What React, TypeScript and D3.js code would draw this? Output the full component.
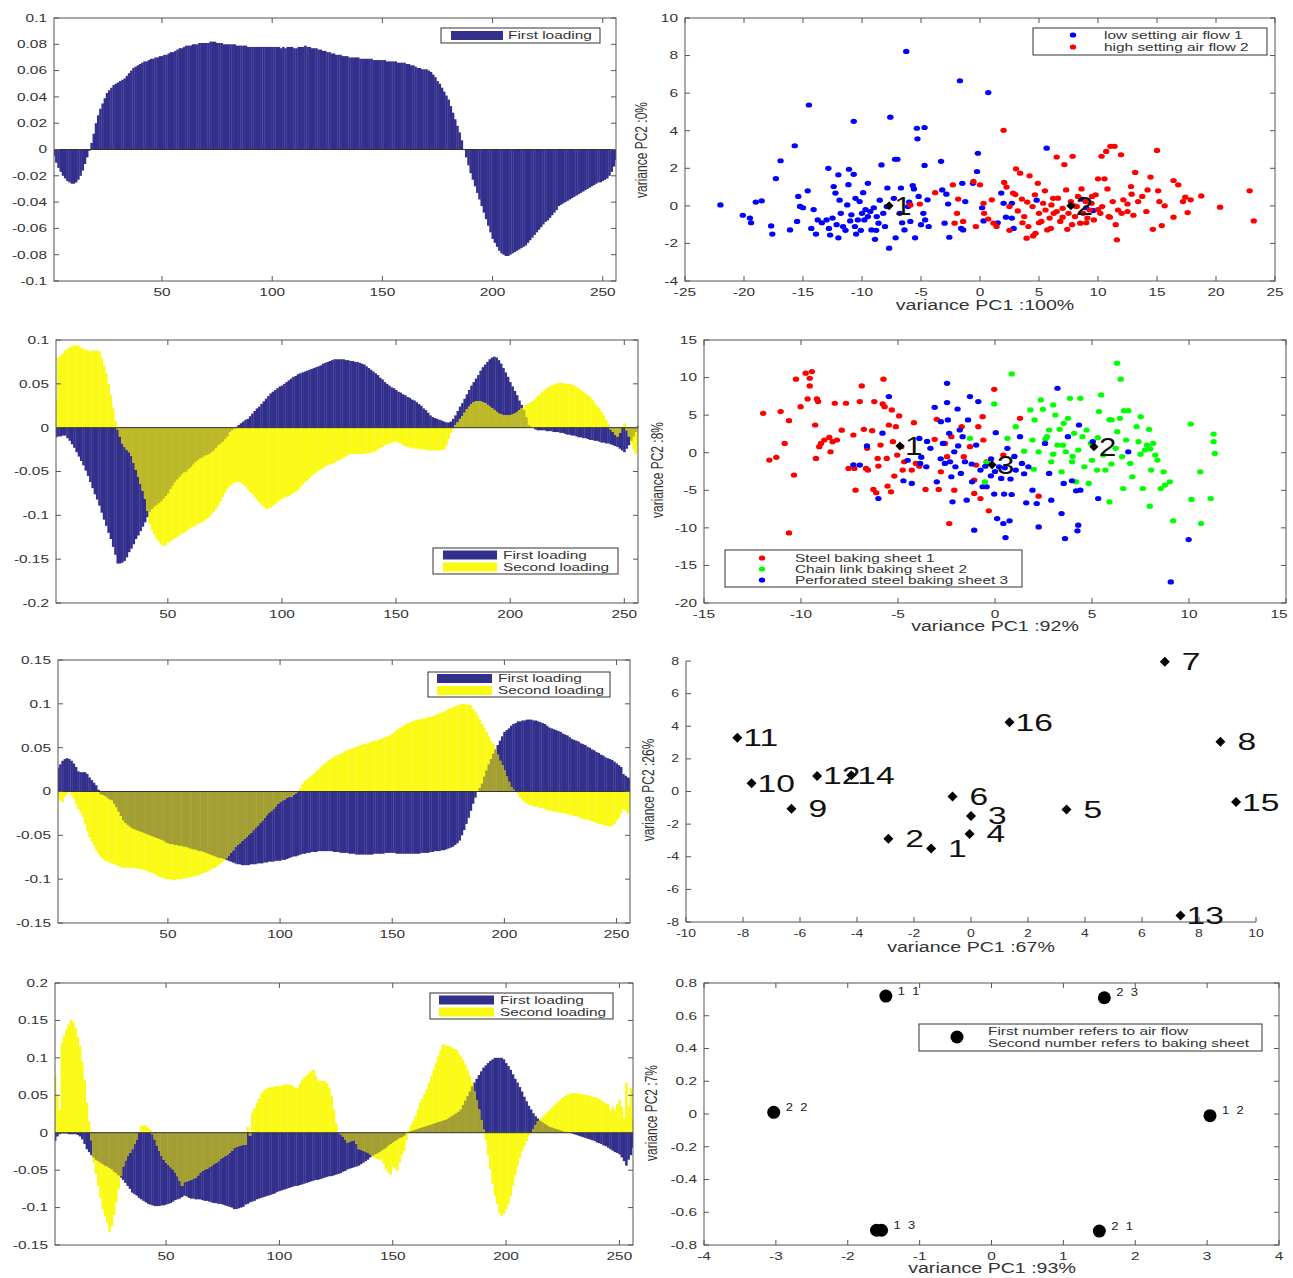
import React from "react";
import * as d3 from "d3";

// ---------------- styles ----------------
const FONT = "'Liberation Sans', Arial, Helvetica, sans-serif";
const NAVY = "#332f8c";
const YELLOW = "#fafa14";
const OLIVE = "#a29e35";
const AXIS = "#555555";
const TXT = "#333333";
const SX = 1.4;

// ---------------- data ----------------
// loadings are listed in thousandths (x 0.001), one value per wavelength index 1..256
const LOADING_UNIT = 0.001;
const bandIndex = d3.range(1, 257);
const barXTicks = [50, 100, 150, 200, 250];

const p1First = [
  -5,-10,-14,-17,-20,-22,-24,-25,-26,-26,
  -25,-23,-20,-16,-11,-6,-1,5,12,20,
  26,31,35,39,43,45,47,49,50,51,
  52,53,54,56,58,60,62,63,64,65,
  66,67,67,68,69,69,70,70,71,71,
  72,72,73,74,74,75,76,77,77,78,
  79,79,79,80,80,80,81,81,81,81,
  81,82,82,82,81,81,81,80,80,80,
  80,80,80,79,79,79,79,79,78,78,
  78,78,78,78,78,78,78,78,78,78,
  78,78,78,77,78,77,78,78,78,77,
  77,78,78,78,79,78,78,77,77,77,
  76,76,75,75,74,74,73,73,72,72,
  72,71,71,71,70,70,70,70,70,69,
  69,69,69,69,69,68,68,68,68,68,
  68,67,67,67,67,67,66,66,66,66,
  65,65,64,64,63,62,62,61,61,61,
  60,59,57,55,52,50,47,44,41,38,
  33,28,23,18,13,7,0,-6,-12,-18,
  -23,-28,-33,-38,-43,-48,-53,-58,-63,-68,
  -71,-74,-77,-79,-80,-81,-81,-80,-79,-78,
  -77,-76,-75,-74,-73,-71,-69,-67,-65,-63,
  -61,-59,-57,-55,-54,-52,-50,-48,-46,-43,
  -42,-41,-40,-39,-38,-37,-36,-35,-34,-33,
  -32,-31,-30,-29,-28,-27,-26,-25,-25,-24,
  -23,-22,-20,-17,-13,-8,
];

const p3First = [
  -11,-10,-10,-9,-9,-12,-15,-19,-23,-28,
  -33,-38,-43,-49,-55,-62,-69,-76,-82,-89,
  -97,-105,-112,-120,-127,-136,-145,-155,-155,-154,
  -152,-148,-142,-138,-133,-127,-123,-118,-113,-108,
  -102,-96,-93,-90,-88,-86,-84,-81,-78,-75,
  -70,-66,-62,-59,-56,-53,-51,-50,-47,-45,
  -42,-39,-37,-35,-34,-32,-31,-30,-28,-26,
  -23,-20,-18,-16,-13,-10,-5,-3,-1,1,
  3,5,7,9,10,13,16,19,22,24,
  27,30,33,36,39,41,43,45,47,48,
  50,52,54,56,58,59,61,62,63,64,
  65,66,67,68,69,70,71,73,74,75,
  76,77,78,78,78,78,78,77,77,76,
  76,75,75,74,73,72,70,68,66,64,
  62,60,57,55,52,50,48,46,45,43,
  41,40,38,37,35,34,32,31,29,27,
  25,22,20,17,14,12,11,10,9,8,
  7,6,6,7,10,14,19,24,28,33,
  38,43,48,52,56,60,65,69,72,75,
  78,80,81,80,77,73,68,63,58,52,
  47,42,37,31,26,20,12,3,1,0,
  -2,-3,-3,-3,-3,-4,-4,-4,-5,-5,
  -5,-6,-6,-7,-8,-8,-9,-9,-10,-11,
  -11,-12,-12,-13,-14,-14,-15,-15,-16,-17,
  -17,-18,-18,-19,-20,-21,-22,-24,-26,-28,
  -24,-20,-15,-10,-5,2,
];

const p3Second = [
  31,80,82,85,88,90,92,93,94,94,
  93,91,90,89,88,87,88,88,88,87,
  80,71,62,50,37,22,8,-2,-10,-18,
  -22,-25,-28,-32,-40,-48,-56,-64,-72,-81,
  -95,-110,-117,-122,-127,-130,-133,-135,-134,-131,
  -130,-128,-126,-125,-123,-121,-120,-118,-116,-114,
  -113,-112,-110,-109,-108,-106,-104,-102,-99,-96,
  -93,-89,-84,-79,-74,-70,-67,-65,-63,-62,
  -62,-63,-65,-67,-70,-73,-76,-79,-82,-85,
  -88,-90,-93,-92,-91,-89,-87,-85,-83,-81,
  -80,-79,-78,-76,-75,-73,-71,-68,-65,-62,
  -60,-58,-55,-53,-51,-49,-48,-46,-44,-43,
  -42,-41,-40,-38,-37,-36,-34,-33,-31,-30,
  -30,-30,-30,-30,-30,-30,-29,-29,-28,-28,
  -27,-25,-23,-22,-20,-19,-18,-17,-16,-16,
  -17,-18,-20,-21,-22,-23,-23,-24,-24,-24,
  -25,-25,-25,-26,-26,-26,-26,-26,-26,-26,
  -25,-20,-13,-6,-1,3,6,10,13,17,
  21,24,27,29,30,30,30,29,28,26,
  24,22,20,18,16,15,14,14,14,14,
  15,16,18,20,22,24,26,28,29,31,
  33,36,38,41,43,45,47,48,49,50,
  51,51,51,50,50,50,49,48,46,45,
  43,41,39,37,35,32,28,25,22,18,
  14,9,3,-2,-5,-8,-10,-6,0,5,
  -3,-10,-18,-25,-30,-20,
];

const p5First = [
  27,31,35,37,38,37,35,32,28,23,
  22,22,22,20,16,13,10,7,2,-3,
  -4,-5,-7,-9,-10,-14,-18,-23,-28,-33,
  -36,-38,-40,-42,-43,-44,-45,-46,-47,-48,
  -49,-50,-51,-52,-53,-54,-55,-56,-58,-59,
  -60,-60,-61,-61,-62,-62,-63,-63,-64,-65,
  -66,-66,-67,-68,-68,-69,-70,-71,-72,-73,
  -74,-75,-76,-76,-77,-78,-79,-80,-81,-82,
  -83,-83,-84,-84,-84,-84,-83,-83,-83,-82,
  -82,-82,-81,-81,-80,-80,-80,-79,-79,-79,
  -78,-78,-77,-76,-75,-74,-74,-73,-72,-71,
  -71,-70,-70,-69,-69,-69,-68,-68,-68,-68,
  -68,-68,-68,-69,-69,-69,-70,-70,-70,-70,
  -71,-71,-71,-72,-72,-72,-72,-72,-72,-72,
  -72,-71,-71,-71,-71,-71,-70,-70,-70,-70,
  -70,-71,-71,-71,-71,-71,-71,-71,-71,-71,
  -71,-71,-70,-70,-70,-70,-69,-69,-68,-68,
  -68,-67,-67,-66,-65,-64,-63,-61,-59,-56,
  -50,-44,-37,-30,-22,-14,-7,0,4,9,
  17,24,31,37,43,48,53,58,63,68,
  70,72,75,77,78,80,80,81,81,82,
  82,82,81,81,80,79,78,77,75,73,
  72,71,70,69,68,66,65,64,62,60,
  59,58,57,55,54,53,51,50,48,47,
  45,44,42,41,39,38,37,36,34,32,
  30,28,20,18,16,15,
];

const p5Second = [
  -6,-10,-12,-6,-3,0,-4,-8,-14,-20,
  -24,-29,-37,-45,-52,-57,-62,-67,-71,-75,
  -77,-79,-80,-81,-82,-83,-84,-85,-86,-87,
  -87,-87,-87,-87,-87,-88,-88,-89,-89,-90,
  -91,-92,-93,-94,-96,-97,-98,-99,-100,-100,
  -100,-101,-101,-100,-100,-100,-99,-99,-98,-98,
  -97,-96,-96,-95,-94,-93,-92,-91,-89,-88,
  -87,-85,-83,-81,-79,-76,-73,-70,-67,-63,
  -61,-59,-56,-54,-52,-49,-47,-44,-41,-39,
  -36,-33,-30,-27,-24,-22,-20,-17,-14,-12,
  -10,-9,-7,-6,-6,-4,-2,0,4,9,
  12,14,16,18,20,23,25,28,30,32,
  34,36,38,39,41,42,43,44,46,47,
  48,49,50,51,52,53,54,54,55,56,
  57,58,58,59,60,61,62,63,64,66,
  68,70,72,73,75,77,78,79,80,81,
  82,82,83,83,84,85,85,86,87,88,
  89,90,91,92,94,95,96,97,98,99,
  100,100,99,99,98,94,91,87,82,77,
  73,68,63,58,54,48,42,35,30,24,
  17,11,5,2,0,-3,-7,-10,-12,-14,
  -15,-16,-17,-17,-18,-19,-19,-20,-21,-22,
  -22,-23,-23,-24,-24,-25,-25,-26,-26,-27,
  -28,-28,-29,-30,-31,-32,-32,-33,-34,-35,
  -36,-37,-37,-38,-39,-39,-40,-39,-37,-33,
  -30,-25,-20,-22,-25,-20,
];

const p7First = [
  -11,-5,-2,-1,-1,-1,-2,-2,-2,-2,
  -3,-5,-9,-15,-22,-26,-30,-33,-36,-38,
  -40,-42,-44,-45,-47,-49,-52,-54,-57,-60,
  -63,-67,-71,-75,-80,-82,-84,-87,-89,-91,
  -93,-95,-96,-97,-98,-98,-98,-97,-97,-96,
  -95,-94,-92,-90,-89,-88,-86,-84,-85,-87,
  -88,-88,-89,-89,-89,-90,-91,-91,-92,-93,
  -94,-94,-95,-95,-96,-97,-98,-99,-100,-102,
  -102,-101,-100,-99,-96,-95,-93,-92,-91,-89,
  -88,-87,-86,-85,-84,-83,-82,-81,-79,-78,
  -77,-76,-75,-74,-73,-72,-71,-71,-70,-69,
  -68,-67,-66,-65,-64,-63,-63,-62,-61,-60,
  -59,-58,-58,-57,-56,-55,-54,-52,-51,-49,
  -48,-47,-46,-45,-44,-42,-40,-38,-36,-33,
  -31,-29,-28,-26,-24,-22,-20,-17,-15,-13,
  -11,-9,-7,-6,-4,0,1,2,3,4,
  5,6,7,8,9,10,11,12,13,14,
  15,16,17,18,20,22,24,26,28,31,
  37,43,49,55,62,67,72,77,82,87,
  90,93,96,98,100,100,100,100,98,93,
  89,84,78,72,67,61,55,48,42,36,
  31,26,22,19,16,14,12,10,8,7,
  6,5,4,3,2,1,1,0,-1,-2,
  -3,-4,-5,-6,-7,-8,-9,-10,-11,-13,
  -14,-15,-17,-18,-20,-22,-24,-26,-27,-29,
  -33,-38,-44,-36,-30,-20,
];

const p7Second = [
  78,50,30,120,130,138,145,151,148,140,
  128,116,95,71,40,15,-10,-40,-55,-71,
  -87,-102,-112,-120,-133,-125,-110,-93,-75,-58,
  -45,-37,-31,-27,-22,-15,-9,0,9,10,
  10,7,4,-2,-9,-17,-24,-31,-36,-40,
  -43,-46,-49,-53,-58,-64,-71,-66,-65,-64,
  -63,-61,-60,-57,-53,-51,-49,-48,-46,-44,
  -42,-40,-38,-35,-33,-31,-29,-27,-24,-20,
  -19,-18,-17,-16,-16,8,-4,27,33,40,
  46,53,56,58,60,61,61,62,62,62,
  63,64,65,64,64,62,60,60,65,71,
  74,77,80,82,84,76,70,69,69,69,
  66,60,49,31,13,0,-2,-5,-9,-13,
  -12,-11,-10,-15,-22,-23,-24,-25,-27,-29,
  -31,-33,-35,-36,-36,-42,-49,-53,-56,-45,
  -48,-51,-40,-30,-24,-10,3,10,16,22,
  31,40,46,52,58,67,76,84,93,102,
  110,118,117,116,116,114,112,111,106,102,
  97,91,84,76,67,55,43,31,17,4,
  -10,-30,-49,-68,-84,-95,-107,-111,-108,-102,
  -95,-85,-71,-57,-44,-34,-25,-18,-11,-4,
  0,5,10,15,18,21,24,27,30,33,
  36,39,42,44,47,49,51,52,53,53,
  53,52,52,51,51,50,49,48,48,47,
  45,43,41,39,38,30,35,30,38,44,
  35,20,67,35,60,20,
];

// score plot: air flow
const p2LowAirFlow: [number, number][] = [
  [-22.0,0.05],[-20.1,-0.5],[-19.5,-0.65],[-19.4,-0.9],[-19.0,0.2],[-18.5,0.27],[-17.7,-1.07],[-17.6,-1.5],
  [-17.3,1.45],[-16.9,2.4],[-16.1,-1.28],[-15.7,3.2],[-15.5,-0.83],[-15.4,0.5],[-15.25,-0.03],[-15.0,-0.1],
  [-14.6,0.8],[-14.5,5.37],[-14.3,-1.2],[-14.1,-0.2],[-13.9,-1.5],[-13.75,-0.75],[-13.4,-0.9],[-13.0,-0.75],
  [-12.85,2.0],[-12.7,-1.55],[-12.5,-0.65],[-12.4,1.03],[-12.25,0.68],[-12.15,-1.0],[-12.0,1.65],[-12.0,-1.7],
  [-11.8,-0.4],[-11.6,-1.1],[-11.4,-1.3],[-11.25,0.05],[-11.15,1.13],[-11.1,1.95],[-10.9,-0.48],[-10.7,1.68],
  [-10.7,4.5],[-10.6,-1.1],[-10.55,0.4],[-10.35,-0.75],[-10.2,0.23],[-10.1,-1.3],[-10.0,-0.4],[-9.8,-0.75],
  [-9.7,-0.2],[-9.5,1.2],[-9.5,-0.57],[-9.3,-0.3],[-9.2,-1.28],[-8.9,-1.78],[-8.75,-0.57],[-8.6,-0.92],
  [-8.35,2.18],[-8.2,-0.4],[-8.05,-1.1],[-7.9,-0.04],[-7.85,0.95],[-7.7,-2.25],[-7.6,4.72],[-7.3,0.4],
  [-7.2,2.48],[-7.15,-1.7],[-7.0,2.48],[-6.8,-0.4],[-6.7,0.95],[-6.4,-1.28],[-6.25,8.22],[-6.1,-0.04],
  [-5.9,-0.83],[-5.7,1.08],[-5.5,-1.7],[-5.35,4.13],[-5.3,3.57],[-5.2,0.5],[-5.0,-1.0],[-4.8,-0.4],
  [-4.7,4.17],[-4.7,2.15],[-4.65,-0.75],[-4.45,0.32],[-4.35,-1.1],[-3.3,2.37],[-3.2,0.85],[-3.0,-0.92],
  [-2.85,0.62],[-2.7,0.1],[-2.6,-1.67],[-1.7,6.66],[-1.6,-1.2],[-1.5,1.2],[-1.43,-1.28],[-1.25,0.23],
  [-0.25,1.83],[-0.18,2.8],[0.18,-0.1],[0.7,6.03],[1.8,0.68],[2.0,0.14],[2.7,0.14],[2.7,-0.65],
  [2.85,-1.2],[5.65,3.07],[8.6,0.36],[9.6,-0.25],[0.3,-0.8],[1.5,-0.9],[-0.6,1.2],[2.2,-0.6],
  [9.0,-0.1],[4.8,0.3],[-11.0,-0.8],[-9.0,-0.1],[-8.5,0.3],[-10.5,-1.5],[-12.8,-1.2],[-6.0,0.2],
  [-9.9,0.7],[-11.9,0.3],[-6.6,-0.9],[-5.6,0.9],[-8.8,-1.3],
];

const p2HighAirFlow: [number, number][] = [
  [-5.9,0.05],[-5.1,0.1],[-3.8,0.7],[-2.3,1.12],[-2.15,-0.92],[-1.95,-0.4],[-1.85,0.36],[-1.43,-0.83],
  [-0.55,1.3],[-0.35,-1.1],[0.0,1.12],[0.3,0.14],[0.35,-0.4],[0.7,-0.7],[1.0,0.32],[1.15,-0.92],
  [1.4,-1.1],[2.0,4.02],[2.05,1.25],[2.25,1.0],[2.5,-0.04],[2.8,0.68],[3.05,1.97],[3.2,-0.27],
  [3.4,1.74],[3.55,0.36],[3.75,-0.57],[3.95,-1.72],[4.1,-1.1],[4.2,1.6],[4.45,-0.04],[4.65,0.59],
  [4.7,-1.46],[4.9,1.2],[5.0,-0.4],[5.2,-0.83],[5.35,0.14],[5.55,-0.22],[5.7,-1.28],[5.9,-0.65],
  [6.05,0.05],[6.25,-0.4],[6.5,2.6],[6.6,0.41],[6.8,-0.83],[7.0,-0.13],[7.15,2.2],[7.3,0.85],
  [7.4,-1.25],[7.5,-0.4],[7.7,0.23],[7.85,2.64],[8.05,-0.57],[8.2,-0.04],[8.3,0.5],[8.5,-0.92],
  [8.75,-0.4],[8.95,0.23],[9.1,-0.65],[9.3,-0.22],[9.45,0.14],[9.65,-0.75],[9.8,0.59],[10.0,1.44],
  [10.2,-0.4],[10.3,2.64],[10.35,-0.04],[10.55,1.44],[10.7,2.9],[10.9,-0.57],[11.05,3.17],[11.25,0.23],
  [11.4,3.17],[11.6,-1.81],[11.7,-0.22],[11.95,2.72],[12.15,0.32],[12.5,-0.3],[12.8,1.03],[12.85,0.62],
  [13.15,1.78],[13.4,0.23],[13.75,0.5],[14.1,-0.3],[14.2,0.85],[14.45,1.53],[14.65,-1.25],[15.0,2.95],
  [15.1,0.8],[15.2,0.23],[15.4,-1.05],[15.65,0.0],[16.4,1.35],[16.4,-0.6],[16.8,1.12],[17.2,0.23],
  [17.4,0.46],[17.6,-0.36],[17.85,0.32],[18.75,0.53],[20.35,-0.07],[22.85,0.8],[23.2,-0.8],[5.0,-0.9],
  [6.0,-1.2],[7.0,-0.6],[8.0,0.0],[9.0,-0.9],[10.0,-0.2],[11.0,-0.6],[12.0,-0.4],[6.5,-0.3],
  [7.8,-1.0],[9.5,0.5],[10.8,0.9],[4.0,0.2],[3.0,0.6],[5.5,0.8],[8.6,0.9],[11.5,-1.0],
  [12.5,0.1],[13.0,-0.5],[6.2,0.4],[3.6,-0.9],[2.5,-1.3],[4.5,-1.6],
];
const p2Centroids: [number, number][] = [[-7.7, 0], [7.7, 0]];
const p2CentroidLabels = ["1", "2"];

// score plot: baking sheet
const p4Steel: [number, number][] = [
  [-11.95,5.24],[-11.63,-0.98],[-11.27,-0.62],[-11.05,5.47],[-10.84,1.24],[-10.62,4.27],[-10.62,-10.67],[-10.36,-2.98],
  [-10.26,9.78],[-10.02,6.13],[-9.76,10.58],[-9.66,7.16],[-9.44,10.8],[-9.55,9.91],[-9.55,8.89],[-9.27,3.69],
  [-9.23,-0.76],[-9.18,7.16],[-9.12,6.8],[-9.06,0.8],[-8.97,1.24],[-8.8,1.69],[-8.54,2.04],[-8.48,0.13],
  [-8.37,1.47],[-8.26,6.58],[-8.15,1.69],[-7.68,6.58],[-7.55,-2.09],[-7.3,2.36],[-7.25,-2.09],[-7.19,-4.98],
  [-6.97,6.8],[-6.87,8.89],[-6.76,3.11],[-6.65,-2.09],[-6.59,0.58],[-6.55,-2.31],[-6.33,2.93],[-6.27,-4.89],
  [-6.22,6.8],[-6.12,-5.33],[-6.05,-0.76],[-6.01,-1.78],[-5.9,1.02],[-5.79,6.49],[-5.75,9.78],[-5.69,6.13],
  [-5.58,-0.76],[-5.54,-4.44],[-5.47,3.69],[-5.36,-5.2],[-5.32,5.69],[-5.26,1.47],[-5.19,-3.11],[-5.11,3.47],
  [-5.04,-0.31],[-4.94,4.89],[-4.83,0.8],[-4.76,-2.31],[-4.68,-1.2],[-4.18,4.0],[-4.29,-2.31],[-4.08,-1.42],
  [-3.58,-4.89],[-3.11,1.78],[-3.0,4.44],[-2.9,-4.89],[-2.79,-2.53],[-2.58,1.24],[-2.47,-0.53],[-2.36,-9.42],
  [-2.25,2.13],[-2.1,-4.98],[-1.72,3.47],[-1.61,-0.53],[-1.29,0.8],[-1.07,-5.42],[-0.97,-1.64],[-0.86,3.47],
  [-0.75,-6.09],[-0.64,4.8],[-0.6,1.69],[-0.43,-1.2],[-0.32,-7.73],[-0.04,8.44],[0.43,-0.31],[1.29,4.58],
  [2.25,-5.78],[-1.07,-3.64],[-3.9,-1.8],[-7.9,3.0],
];
const p4ChainLink: [number, number][] = [
  [0.86,10.49],[-0.04,6.49],[-1.29,1.91],[-0.52,-3.87],[0.64,1.91],[1.07,3.47],[1.82,5.69],[1.93,1.69],
  [2.04,4.36],[2.25,0.13],[2.36,7.02],[2.47,5.78],[2.68,2.13],[2.79,3.02],[2.9,-1.2],[3.0,6.36],
  [3.11,5.02],[3.22,1.02],[3.33,3.11],[3.43,-2.53],[3.54,3.91],[3.65,0.13],[3.76,4.58],[3.86,7.24],
  [3.97,-1.2],[4.08,2.58],[4.18,-3.87],[4.29,0.36],[4.4,7.24],[4.51,2.13],[4.61,-1.87],[4.72,3.02],
  [4.83,-4.09],[4.94,1.24],[5.26,-2.31],[5.36,5.47],[5.47,7.69],[5.58,-0.31],[5.69,-2.31],[5.9,-6.53],
  [6.01,4.36],[6.22,0.58],[6.29,11.91],[6.44,4.58],[6.48,9.78],[6.55,-0.53],[6.61,-4.76],[6.65,5.6],
  [6.76,1.69],[6.87,5.6],[6.97,-1.42],[7.08,-3.2],[7.3,3.47],[7.4,1.47],[7.51,4.8],[7.62,-4.76],
  [7.73,0.36],[7.83,1.02],[7.94,3.11],[7.98,-7.11],[8.05,-2.31],[8.15,1.24],[8.26,-0.31],[8.37,-0.98],
  [8.54,-4.76],[8.69,-2.53],[8.76,-4.31],[9.01,-3.87],[9.18,-9.07],[10.09,3.82],[10.13,-6.22],[10.58,-2.53],
  [10.62,-9.42],[11.12,-6.09],[11.27,2.49],[11.27,1.47],[11.33,-0.09],[5.9,4.4],[6.3,2.8],[5.0,-1.0],
  [4.0,-0.5],[3.0,-0.2],[2.6,1.8],[3.5,1.0],[7.5,-0.2],[8.0,0.5],[6.0,-1.5],[5.3,2.0],
  [1.5,0.2],[2.0,-2.2],[-0.43,-1.3],
];
const p4Perforated: [number, number][] = [
  [-5.47,7.47],[-6.01,-6.09],[-6.97,-1.64],[-4.72,-3.73],[-4.29,-4.09],[-3.86,-1.42],[-3.54,-1.87],[-3.33,0.58],
  [-3.11,6.04],[-3.0,-3.87],[-2.79,4.13],[-2.68,1.24],[-2.58,-1.42],[-2.47,9.24],[-2.47,6.67],[-2.43,4.36],
  [-2.36,2.58],[-2.32,-1.2],[-2.25,-3.2],[-2.19,-6.53],[-2.1,0.13],[-2.04,-1.87],[-1.93,5.82],[-1.82,3.02],
  [-1.76,-2.76],[-1.67,2.13],[-1.55,-1.2],[-1.46,-6.31],[-1.39,4.36],[-1.29,7.47],[-1.18,-3.87],[-1.07,-10.31],
  [-0.97,1.02],[-0.86,6.8],[-0.75,-2.31],[-0.64,-4.53],[-0.43,-4.53],[-0.21,-3.07],[-0.04,-5.51],[0.04,2.67],
  [0.11,-8.76],[0.21,-1.87],[0.32,-3.42],[0.43,-9.42],[0.47,-5.51],[0.54,-11.29],[0.64,0.58],[0.75,-9.07],
  [0.86,-5.56],[1.07,-2.31],[1.29,2.13],[1.39,-1.42],[1.61,-6.67],[1.72,-1.87],[1.93,-4.98],[2.15,-6.76],
  [2.25,-9.87],[2.58,1.24],[2.79,-2.76],[2.9,-6.31],[3.22,8.58],[3.43,-8.09],[3.54,-4.09],[3.61,-11.42],
  [3.76,2.13],[3.97,-3.73],[4.18,-5.07],[4.29,-9.64],[4.25,-10.4],[4.33,3.69],[4.4,-4.98],[5.04,1.47],
  [5.32,-6.09],[6.87,0.13],[9.98,-11.56],[9.06,-17.2],[-0.5,-1.8],[0.0,-2.5],[0.5,-2.0],[-0.2,-0.8],
  [1.0,-0.5],[1.5,-2.8],[-1.2,-1.5],[0.8,-3.5],[-3.5,1.5],[-4.5,-1.0],[-2.8,-0.8],[-3.8,-0.6],
  [-6.6,0.9],[-7.3,-1.6],[-5.8,2.6],[-1.9,0.9],[-3.9,1.9],
];
const p4Centroids: [number, number][] = [[-4.9, 0.9], [5.1, 0.8], [-0.15, -1.6]];
const p4CentroidLabels = ["1", "2", "3"];

// score plot: 16 samples
const p6Labels = ["1","2","3","4","5","6","7","8","9","10","11","12","13","14","15","16"];
const p6PC1 = [-1.4,-2.9,0,-0.05,3.35,-0.65,6.8,8.75,-6.3,-7.7,-8.2,-5.4,7.35,-4.2,9.3,1.35];
const p6PC2 = [-3.5,-2.9,-1.5,-2.6,-1.1,-0.3,7.95,3.05,-1.05,0.5,3.3,0.95,-7.6,1.0,-0.65,4.25];

// score plot: group means
const p8Labels = ["1 1", "2 3", "2 2", "1 2", "", "1 3", "2 1"];
const p8PC1 = [-1.47, 1.57, -3.03, 3.04, -1.6, -1.53, 1.5];
const p8PC2 = [0.72, 0.71, 0.01, -0.01, -0.71, -0.71, -0.715];

// ---------------- helpers ----------------
const fmt = (v: number) => String(parseFloat(v.toFixed(4)));

type F = { l: number; r: number; t: number; b: number };

function T({ x, y, children, anchor = "start", size = 11, sx = SX, sy = 1, rot = 0, fill = TXT, dy = "0.35em" }: any) {
  return (
    <text
      transform={`translate(${x},${y}) rotate(${rot}) scale(${sx},${sy})`}
      textAnchor={anchor}
      fontSize={size}
      fill={fill}
      dy={dy}
      fontFamily={FONT}
      style={{ whiteSpace: "pre" }}
    >
      {children}
    </text>
  );
}

function Axes({ f, xs, ys, xTicks, yTicks, box = true, fs = 11 }: any) {
  const tl = 5;
  return (
    <g>
      {box ? (
        <rect x={f.l} y={f.t} width={f.r - f.l} height={f.b - f.t} fill="none" stroke={AXIS} strokeWidth={1} />
      ) : (
        <path d={`M${f.l},${f.t}V${f.b}H${f.r}`} fill="none" stroke={AXIS} strokeWidth={1} />
      )}
      {xTicks.map((v: number) => (
        <g key={"x" + v}>
          <line x1={xs(v)} x2={xs(v)} y1={f.b} y2={f.b - tl} stroke={AXIS} />
          {box && <line x1={xs(v)} x2={xs(v)} y1={f.t} y2={f.t + tl} stroke={AXIS} />}
          <T x={Math.min(xs(v), 1279)} y={f.b + 11} anchor="middle" size={fs}>{fmt(v)}</T>
        </g>
      ))}
      {yTicks.map((v: number) => (
        <g key={"y" + v}>
          <line x1={f.l} x2={f.l + tl} y1={ys(v)} y2={ys(v)} stroke={AXIS} />
          {box && <line x1={f.r} x2={f.r - tl} y1={ys(v)} y2={ys(v)} stroke={AXIS} />}
          <T x={f.l - 7} y={ys(v)} anchor="end" size={fs}>{fmt(v)}</T>
        </g>
      ))}
    </g>
  );
}

function BarPanel({ id, f, yDomain, yTicks, first, second, legend, overlap = OLIVE }: any) {
  const xs = d3.scaleLinear().domain([1, 256]).range([f.l, f.r]);
  const ys = d3.scaleLinear().domain(yDomain).range([f.b, f.t]);
  const step = xs(2) - xs(1);
  const y0 = ys(0);
  const bar = (i: number, v: number, color: string, key: string) => {
    const yv = ys(v * LOADING_UNIT);
    return (
      <rect key={key} x={xs(i) - step / 2} width={step + 0.3} y={Math.min(yv, y0)} height={Math.abs(yv - y0)} fill={color} />
    );
  };
  return (
    <g>
      <clipPath id={id}>
        <rect x={f.l} y={f.t} width={f.r - f.l} height={f.b - f.t} />
      </clipPath>
      <g clipPath={`url(#${id})`}>
        {bandIndex.map((i, k) => bar(i, first[k], NAVY, "a" + k))}
        {second && bandIndex.map((i, k) => bar(i, second[k], YELLOW, "b" + k))}
        {second &&
          bandIndex.map((i, k) => {
            const a = first[k], b = second[k];
            if (a * b <= 0) return null;
            const m = Math.sign(a) * Math.min(Math.abs(a), Math.abs(b));
            return bar(i, m, overlap, "c" + k);
          })}
      </g>
      <line x1={f.l} x2={f.r} y1={y0} y2={y0} stroke="#333" strokeWidth={1} />
      <Axes f={f} xs={xs} ys={ys} xTicks={barXTicks} yTicks={yTicks} />
      <rect x={legend.x} y={legend.y} width={legend.w} height={legend.h} fill="#fff" stroke="#333" />
      {legend.rows.map((r: any, k: number) => (
        <g key={k}>
          <rect x={legend.sx} y={r.y - 4.5} width={legend.sw} height={9} fill={r.color} />
          <T x={legend.tx} y={r.y} size={11}>{r.label}</T>
        </g>
      ))}
    </g>
  );
}

const diamond = (x: number, y: number, w: number, h: number) => `M${x},${y - h}L${x + w},${y}L${x},${y + h}L${x - w},${y}Z`;

function Dots({ pts, xs, ys, color }: any) {
  return (
    <g>
      {pts.map((p: [number, number], k: number) => (
        <ellipse key={k} cx={xs(p[0])} cy={ys(p[1])} rx={3.2} ry={2.6} fill={color} />
      ))}
    </g>
  );
}

function Centroids({ pts, labels, xs, ys }: any) {
  return (
    <g>
      {pts.map((p: [number, number], k: number) => (
        <g key={k}>
          <path d={diamond(xs(p[0]), ys(p[1]), 4.5, 4.5)} fill="#000" />
          <T x={xs(p[0]) + 5} y={ys(p[1])} size={26} sx={1.2} fill="#111">{labels[k]}</T>
        </g>
      ))}
    </g>
  );
}

function AxisLabels({ xl, xx, xy, yl, yx, yy }: any) {
  return (
    <g>
      <T x={xx} y={xy} anchor="middle" size={14} sx={1.4}>{xl}</T>
      <T x={yx} y={yy} anchor="middle" size={12} sx={1} sy={1.4} rot={-90}>{yl}</T>
    </g>
  );
}

// ---------------- panels ----------------
function Panel2() {
  const f: F = { l: 685, r: 1275, t: 18, b: 281 };
  const xs = d3.scaleLinear().domain([-25, 25]).range([f.l, f.r]);
  const ys = d3.scaleLinear().domain([-4, 10]).range([f.b, f.t]);
  return (
    <g>
      <Dots pts={p2LowAirFlow} xs={xs} ys={ys} color="#0000ff" />
      <Dots pts={p2HighAirFlow} xs={xs} ys={ys} color="#ff0000" />
      <Centroids pts={p2Centroids} labels={p2CentroidLabels} xs={xs} ys={ys} />
      <Axes f={f} xs={xs} ys={ys} xTicks={[-25, -20, -15, -10, -5, 0, 5, 10, 15, 20, 25]} yTicks={[-4, -2, 0, 2, 4, 6, 8, 10]} />
      <rect x={1033} y={28} width={234} height={27} fill="#fff" stroke="#333" />
      <ellipse cx={1073} cy={35} rx={3.2} ry={2.6} fill="#0000ff" />
      <ellipse cx={1073} cy={47} rx={3.2} ry={2.6} fill="#ff0000" />
      <T x={1104} y={35}>low setting air flow 1</T>
      <T x={1104} y={47}>high setting air flow 2</T>
      <AxisLabels xl="variance PC1 :100%" xx={985} xy={305} yl="variance PC2 :0%" yx={641} yy={150} />
    </g>
  );
}

function Panel4() {
  const f: F = { l: 704, r: 1286, t: 340, b: 603 };
  const xs = d3.scaleLinear().domain([-15, 15]).range([f.l, f.r]);
  const ys = d3.scaleLinear().domain([-20, 15]).range([f.b, f.t]);
  return (
    <g>
      <Dots pts={p4Steel} xs={xs} ys={ys} color="#ff0000" />
      <Dots pts={p4ChainLink} xs={xs} ys={ys} color="#00ff00" />
      <Dots pts={p4Perforated} xs={xs} ys={ys} color="#0000ff" />
      <Centroids pts={p4Centroids} labels={p4CentroidLabels} xs={xs} ys={ys} />
      <Axes f={f} xs={xs} ys={ys} xTicks={[-15, -10, -5, 0, 5, 10, 15]} yTicks={[-20, -15, -10, -5, 0, 5, 10, 15]} />
      <rect x={725} y={550} width={297} height={37} fill="#fff" stroke="#333" />
      <ellipse cx={762} cy={558} rx={3.2} ry={2.6} fill="#ff0000" />
      <ellipse cx={762} cy={569} rx={3.2} ry={2.6} fill="#00ff00" />
      <ellipse cx={762} cy={580} rx={3.2} ry={2.6} fill="#0000ff" />
      <T x={795} y={558}>Steel baking sheet 1</T>
      <T x={795} y={569}>Chain link baking sheet 2</T>
      <T x={795} y={580}>Perforated steel baking sheet 3</T>
      <AxisLabels xl="variance PC1 :92%" xx={995} xy={626} yl="variance PC2 :8%" yx={657} yy={470} />
    </g>
  );
}

function Panel6() {
  const f: F = { l: 686, r: 1256, t: 661, b: 922 };
  const xs = d3.scaleLinear().domain([-10, 10]).range([f.l, f.r]);
  const ys = d3.scaleLinear().domain([-8, 8]).range([f.b, f.t]);
  return (
    <g>
      <Axes f={f} xs={xs} ys={ys} box={false} fs={10} xTicks={[-10, -8, -6, -4, -2, 0, 2, 4, 6, 8, 10]} yTicks={[-8, -6, -4, -2, 0, 2, 4, 6, 8]} />
      {p6Labels.map((lab, k) => {
        const x = xs(p6PC1[k]);
        const y = ys(p6PC2[k]);
        return (
          <g key={k}>
            <path d={diamond(x, y, 5, 5)} fill="#000" />
            <T x={x + (lab.length < 2 ? 17 : 6)} y={y} size={24} sx={1.4} fill="#111">{lab}</T>
          </g>
        );
      })}
      <AxisLabels xl="variance PC1 :67%" xx={971} xy={947} yl="variance PC2 :26%" yx={648} yy={790} />
    </g>
  );
}

function Panel8() {
  const f: F = { l: 704, r: 1279, t: 983, b: 1245 };
  const xs = d3.scaleLinear().domain([-4, 4]).range([f.l, f.r]);
  const ys = d3.scaleLinear().domain([-0.8, 0.8]).range([f.b, f.t]);
  return (
    <g>
      <Axes f={f} xs={xs} ys={ys} xTicks={[-4, -3, -2, -1, 0, 1, 2, 3, 4]} yTicks={[-0.8, -0.6, -0.4, -0.2, 0, 0.2, 0.4, 0.6, 0.8]} />
      {p8Labels.map((lab, k) => {
        const x = xs(p8PC1[k]);
        const y = ys(p8PC2[k]);
        return (
          <g key={k}>
            <circle cx={x} cy={y} r={6.5} fill="#000" />
            {lab && <T x={x + 12} y={y - 5} size={10} sx={1.3} fill="#222">{lab.replace(" ", "  ")}</T>}
          </g>
        );
      })}
      <rect x={919} y={1024} width={343} height={27} fill="#fff" stroke="#333" />
      <circle cx={957} cy={1037} r={6.5} fill="#000" />
      <T x={988} y={1031}>First number refers to air flow</T>
      <T x={988} y={1043}>Second number refers to baking sheet</T>
      <AxisLabels xl="variance PC1 :93%" xx={992} xy={1268} yl="variance PC2 :7%" yx={651} yy={1113} />
    </g>
  );
}

export default function App() {
  return (
    <svg width={1293} height={1278} style={{ position: "absolute", left: 0, top: 0, background: "#fff" }} fontFamily={FONT}>
      <rect width={1293} height={1278} fill="#fff" />
      <BarPanel
        id="c1"
        f={{ l: 54, r: 616, t: 18, b: 281 }}
        yDomain={[-0.1, 0.1]}
        yTicks={[-0.1, -0.08, -0.06, -0.04, -0.02, 0, 0.02, 0.04, 0.06, 0.08, 0.1]}
        first={p1First}
        legend={{ x: 441, y: 28, w: 159, h: 15, sx: 451, sw: 52, tx: 508, rows: [{ y: 35.5, color: NAVY, label: "First loading" }] }}
      />
      <BarPanel
        id="c3"
        f={{ l: 56, r: 638, t: 340, b: 603 }}
        yDomain={[-0.2, 0.1]}
        yTicks={[-0.2, -0.15, -0.1, -0.05, 0, 0.05, 0.1]}
        first={p3First}
        second={p3Second}
        overlap="#bcb82a"
        legend={{ x: 433, y: 548, w: 185, h: 26, sx: 443, sw: 54, tx: 503, rows: [{ y: 555, color: NAVY, label: "First loading" }, { y: 567, color: YELLOW, label: "Second loading" }] }}
      />
      <BarPanel
        id="c5"
        f={{ l: 58, r: 630, t: 660, b: 923 }}
        yDomain={[-0.15, 0.15]}
        yTicks={[-0.15, -0.1, -0.05, 0, 0.05, 0.1, 0.15]}
        first={p5First}
        second={p5Second}
        legend={{ x: 428, y: 672, w: 182, h: 25, sx: 437, sw: 55, tx: 498, rows: [{ y: 678.5, color: NAVY, label: "First loading" }, { y: 690.5, color: YELLOW, label: "Second loading" }] }}
      />
      <BarPanel
        id="c7"
        f={{ l: 55, r: 633, t: 983, b: 1245 }}
        yDomain={[-0.15, 0.2]}
        yTicks={[-0.15, -0.1, -0.05, 0, 0.05, 0.1, 0.15, 0.2]}
        first={p7First}
        second={p7Second}
        legend={{ x: 430, y: 993, w: 183, h: 26, sx: 439, sw: 55, tx: 500, rows: [{ y: 1000, color: NAVY, label: "First loading" }, { y: 1012, color: YELLOW, label: "Second loading" }] }}
      />
      <Panel2 />
      <Panel4 />
      <Panel6 />
      <Panel8 />
    </svg>
  );
}
